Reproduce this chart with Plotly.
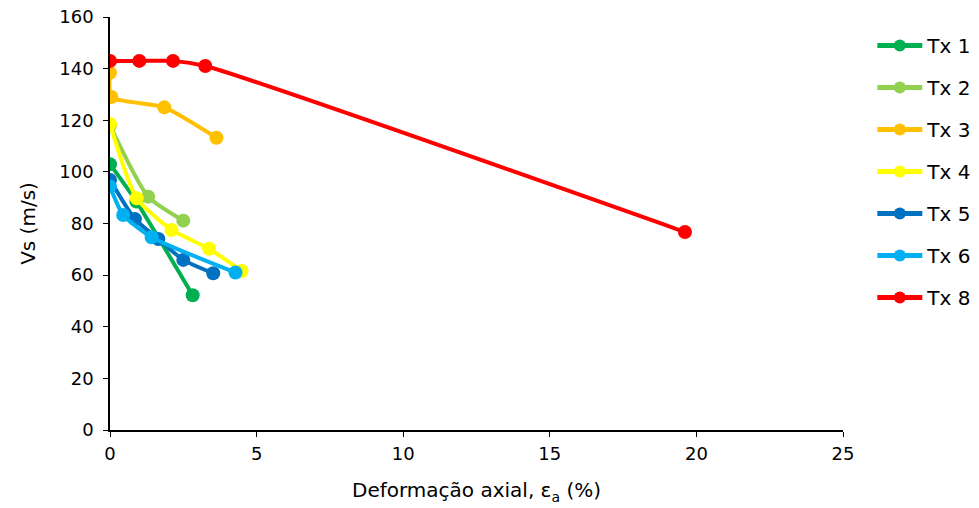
import plotly.graph_objects as go

names = ["Tx 1", "Tx 2", "Tx 3", "Tx 4", "Tx 5", "Tx 6", "Tx 8"]
colors = ["#00B050", "#92D050", "#FFC000", "#FFFF00", "#0070C0", "#00B0F0", "#FF0000"]

tx1_x = [0.0, 0.9, 2.82]
tx1_y = [103.0, 88.5, 52.2]
tx2_x = [0.0, 1.3, 2.5]
tx2_y = [118.0, 90.4, 81.1]
tx3_x = [0.0, 0.05, 1.85, 3.63]
tx3_y = [138.4, 129.0, 125.0, 113.2]
tx4_x = [0.0, 0.91, 2.1, 3.38, 4.49]
tx4_y = [118.5, 89.8, 77.5, 70.2, 61.6]
tx5_x = [0.0, 0.85, 1.65, 2.5, 3.52]
tx5_y = [96.9, 81.7, 74.0, 65.9, 60.7]
tx6_x = [0.0, 0.45, 1.42, 4.28]
tx6_y = [94.3, 83.3, 74.7, 61.0]
tx8_x = [0.0, 1.0, 2.15, 3.25, 19.61]
tx8_y = [143.0, 143.0, 143.0, 141.0, 76.7]

xs = [tx1_x, tx2_x, tx3_x, tx4_x, tx5_x, tx6_x, tx8_x]
ys = [tx1_y, tx2_y, tx3_y, tx4_y, tx5_y, tx6_y, tx8_y]

font = "Verdana, DejaVu Sans, sans-serif"
fig = go.Figure()
for n, c, x, y in zip(names, colors, xs, ys):
    fig.add_trace(go.Scatter(
        x=x, y=y, name=n, mode="lines+markers",
        line=dict(color=c, width=4, shape="spline", smoothing=0.6),
        marker=dict(color=c, size=14),
        legendgroup=n,
    ))

fig.update_layout(
    width=979, height=508,
    margin=dict(l=110, r=136, t=17, b=78, autoexpand=False),
    plot_bgcolor="white", paper_bgcolor="white",
    font=dict(family=font, size=18, color="black"),
    showlegend=True,
    legend=dict(x=1.04, y=0.978, xanchor="left", yanchor="top",
                font=dict(size=20), tracegroupgap=13, itemwidth=45,
                itemsizing="constant"),
    xaxis=dict(range=[0, 25], tickvals=[0, 5, 10, 15, 20, 25],
               showline=True, linecolor="black", linewidth=1.5,
               ticks="outside", ticklen=5, tickcolor="black",
               showgrid=False, zeroline=False, ticklabelstandoff=2,
               tickfont=dict(size=18), automargin=False,
               title=dict(text="Deformação axial, ε<sub>a</sub> (%)", font=dict(size=20), standoff=20)),
    yaxis=dict(range=[0, 160], tickvals=list(range(0, 161, 20)),
               showline=True, linecolor="black", linewidth=1.5,
               ticks="outside", ticklen=5, tickcolor="black",
               showgrid=False, zeroline=False, ticklabelstandoff=6,
               tickfont=dict(size=18), automargin=False,
               title=dict(text="Vs (m/s)", font=dict(size=20), standoff=18)),
)
fig.write_html("out.html")
